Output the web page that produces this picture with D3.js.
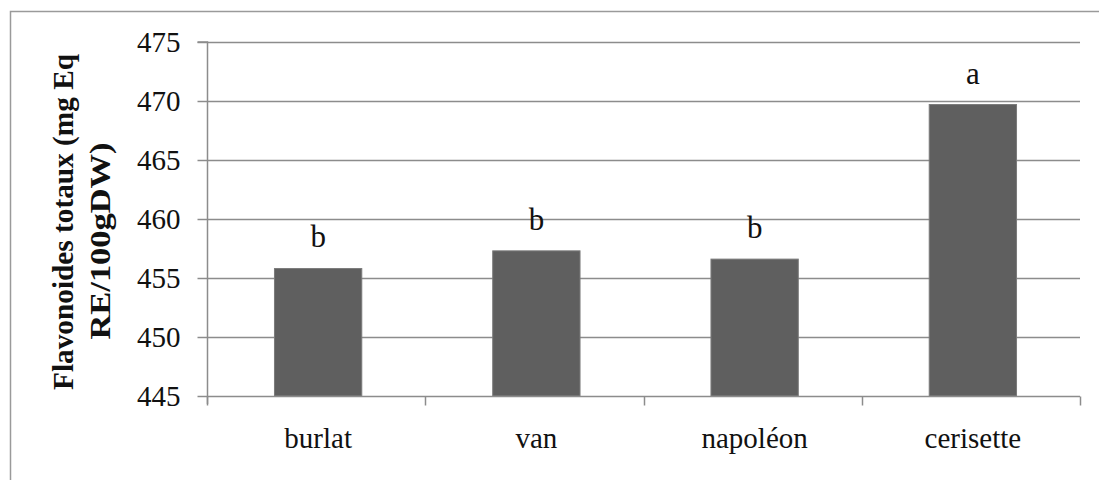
<!DOCTYPE html>
<html>
<head>
<meta charset="utf-8">
<script src="https://cdn.jsdelivr.net/npm/d3@7"></script>
<style>
  html, body { margin: 0; padding: 0; background: #fff; }
  svg { display: block; }
  svg text { font-family: "Liberation Serif", "Times New Roman", Times, serif; fill: #111; }
</style>
</head>
<body>
<svg id="chart" width="1099" height="480"></svg>
<script>
// Total flavonoids per cherry variety
const categories = ["burlat", "van", "napoléon", "cerisette"];
const values = [455.8, 457.3, 456.6, 469.7];
// Significance letters and the level (in axis units) where each letter sits
const letters = ["b", "b", "b", "a"];
const letterLevels = [457.6, 459.1, 458.4, 471.4];
const yTicks = [445, 450, 455, 460, 465, 470, 475];
const yTitle = ["Flavonoides totaux (mg Eq", "RE/100gDW)"];

const svg = d3.select("#chart");
const W = 1099, H = 480;
const margin = { left: 207, right: 19, top: 42, bottom: 84 };
const gridColor = "#8c8c8c";
const serif = "'Liberation Serif', 'Times New Roman', Times, serif";

// outer frame (top and left edges visible)
svg.append("path")
  .attr("d", `M10.5,${H} L10.5,11.5 L${W},11.5`)
  .attr("fill", "none").attr("stroke", "#9a9a9a").attr("stroke-width", 1.5);

const x = d3.scaleBand()
  .domain(categories)
  .range([margin.left, W - margin.right])
  .paddingInner(0.6).paddingOuter(0.3);

const y = d3.scaleLinear()
  .domain([445, 475])
  .range([H - margin.bottom, margin.top]);

// horizontal gridlines
svg.append("g").selectAll("line")
  .data(yTicks.filter(t => t !== 445))
  .join("line")
  .attr("x1", margin.left).attr("x2", W - margin.right)
  .attr("y1", d => Math.round(y(d)) + 0.5).attr("y2", d => Math.round(y(d)) + 0.5)
  .attr("stroke", gridColor).attr("stroke-width", 1.5);

// bars
svg.append("g").selectAll("rect")
  .data(values)
  .join("rect")
  .attr("x", (d, i) => x(categories[i]) + 2)
  .attr("width", x.bandwidth())
  .attr("y", d => y(d))
  .attr("height", d => y(445) - y(d))
  .attr("fill", "#5f5f5f")
  .attr("stroke", "#7a7a7a").attr("stroke-width", 1);

// y axis
const yAxis = d3.axisLeft(y).tickValues(yTicks).tickSize(10).tickPadding(17).tickFormat(d3.format("d"));
const gy = svg.append("g")
  .attr("transform", `translate(${margin.left + 0.5},0)`)
  .call(yAxis)
  .attr("font-family", serif);
gy.select(".domain").attr("stroke", gridColor).attr("stroke-width", 1.5)
  .attr("d", `M-10,${y(475)}H0V${y(445) + 8}`);
gy.selectAll(".tick line").attr("stroke", gridColor).attr("stroke-width", 1.5);
gy.selectAll(".tick text").attr("font-size", 29).attr("fill", "#111");

// x axis: baseline with tick marks at category boundaries
const xAxisY = Math.round(y(445)) + 0.5;
const bounds = d3.range(categories.length + 1).map(i => margin.left + i * (W - margin.right - margin.left) / categories.length);
const gx = svg.append("g");
gx.append("line")
  .attr("x1", margin.left).attr("x2", W - margin.right)
  .attr("y1", xAxisY).attr("y2", xAxisY)
  .attr("stroke", gridColor).attr("stroke-width", 1.5);
gx.selectAll("line.tk")
  .data(bounds)
  .join("line").attr("class", "tk")
  .attr("x1", d => Math.round(d) + 0.5).attr("x2", d => Math.round(d) + 0.5)
  .attr("y1", xAxisY).attr("y2", xAxisY + 9)
  .attr("stroke", gridColor).attr("stroke-width", 1.5);
gx.selectAll("text")
  .data(categories)
  .join("text")
  .attr("x", d => x(d) + x.bandwidth() / 2 + 2)
  .attr("y", xAxisY + 51)
  .attr("text-anchor", "middle")
  .attr("font-size", 29)
  .text(d => d);

// significance letters
svg.append("g").selectAll("text")
  .data(letters)
  .join("text")
  .attr("x", (d, i) => x(categories[i]) + x.bandwidth() / 2 + 2)
  .attr("y", (d, i) => y(letterLevels[i]))
  .attr("text-anchor", "middle")
  .attr("font-size", 31)
  .text(d => d);

// y axis title (two lines, rotated)
const titleLines = [
  { cx: 222, base: 73, len: 336 },
  { cx: 241, base: 110, len: 197 }
];
svg.append("g").selectAll("text")
  .data(yTitle)
  .join("text")
  .attr("transform", (d, i) => `translate(${titleLines[i].base},${titleLines[i].cx}) rotate(-90)`)
  .attr("text-anchor", "middle")
  .attr("font-size", 29)
  .attr("font-weight", "bold")
  .attr("textLength", (d, i) => titleLines[i].len)
  .attr("lengthAdjust", "spacingAndGlyphs")
  .text(d => d);
</script>
</body>
</html>
